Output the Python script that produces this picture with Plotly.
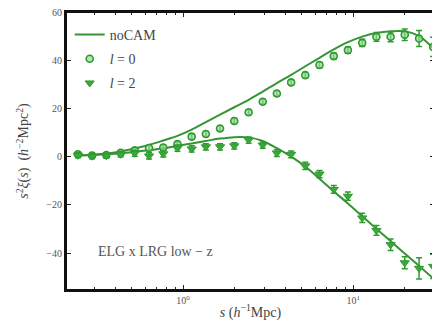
import plotly.graph_objects as go

# separation bins (h^-1 Mpc)
s = [0.241, 0.292, 0.354, 0.430, 0.520, 0.631, 0.765, 0.927, 1.124, 1.362,
     1.65, 2.0, 2.43, 2.94, 3.56, 4.32, 5.23, 6.34, 7.69, 9.31,
     11.3, 13.7, 16.6, 20.1, 24.4, 29.5]

# monopole measurements and errors
xi0 = [1.0, 0.5, 0.7, 1.6, 2.6, 3.6, 3.8, 5.2, 8.3, 9.4,
       11.7, 14.8, 18.4, 22.8, 26.2, 30.8, 33.8, 38.0, 41.7, 44.2,
       47.2, 49.7, 49.7, 50.6, 49.0, 45.5]
err0 = [0.9, 0.9, 0.9, 0.9, 0.9, 1.0, 1.0, 1.0, 1.0, 1.0,
        1.0, 1.0, 1.0, 1.0, 1.0, 1.1, 1.1, 1.2, 1.2, 1.3,
        1.5, 1.8, 2.0, 2.4, 3.3, 4.0]

# quadrupole measurements and errors
xi2 = [0.6, 0.2, 0.4, 1.0, 1.4, 0.3, 1.2, 3.5, 3.2, 4.1,
       4.1, 4.5, 6.9, 4.8, 1.5, 1.0, -3.8, -7.2, -13.6, -16.4,
       -25.4, -30.6, -36.5, -44.0, -46.3, -45.5]
err2 = [1.1, 1.1, 1.1, 1.1, 1.2, 1.3, 1.3, 1.3, 1.3, 1.3,
        1.3, 1.3, 1.3, 1.3, 1.4, 1.4, 1.5, 1.5, 1.6, 1.7,
        1.9, 2.0, 2.4, 2.5, 4.4, 5.0]

# noCAM model curves
model0 = [0.5, 0.8, 1.3, 2.2, 3.4, 4.9, 6.7, 8.6, 11.2, 14.3,
          17.4, 20.5, 23.6, 27.0, 30.5, 33.9, 37.5, 41.0, 44.5, 47.5,
          49.8, 51.3, 52.0, 52.0, 50.0, 45.0]
model2 = [0.5, 0.7, 1.0, 1.4, 2.0, 2.7, 3.5, 4.5, 5.5, 6.5,
          7.5, 8.1, 8.0, 6.5, 3.5, 0.0, -4.1, -9.2, -14.4, -19.4,
          -24.7, -29.9, -35.0, -40.2, -45.3, -50.4]

xticks = [1, 10]
xticktext = ["10<sup>0</sup>", "10<sup>1</sup>"]
yticks = [-40, -20, 0, 20, 40, 60]
minor_vals = [0.3, 0.4, 0.5, 0.6, 0.7, 0.8, 0.9, 2, 3, 4, 5, 6, 7, 8, 9, 20, 30]

green_line = "#359535"
green_mk = "#2f9a2f"
font_family = "Liberation Serif"

fig = go.Figure()

fig.add_trace(go.Scatter(
    x=s, y=model0, mode="lines", name="noCAM", legendgroup="a",
    line=dict(color=green_line, width=2, shape="spline"),
))
fig.add_trace(go.Scatter(
    x=s, y=model2, mode="lines", name="noCAM", legendgroup="a",
    line=dict(color=green_line, width=2, shape="spline"),
    showlegend=False,
))
fig.add_trace(go.Scatter(
    x=s, y=xi0, mode="markers", name="<i>l</i> = 0", legendgroup="b",
    marker=dict(symbol="circle", size=7, color="rgba(150,215,150,0.7)",
                line=dict(color=green_mk, width=1.6)),
    error_y=dict(type="data", array=err0, color=green_mk, thickness=1.5, width=3),
))
fig.add_trace(go.Scatter(
    x=s, y=xi2, mode="markers", name="<i>l</i> = 2", legendgroup="c",
    marker=dict(symbol="triangle-down", size=8, color="#3aa83a",
                line=dict(color=green_mk, width=1)),
    error_y=dict(type="data", array=err2, color=green_mk, thickness=1.5, width=3),
))

# page has an 8px body margin, so the figure is sized to fit inside the window
fig.update_layout(
    width=430, height=313,
    margin=dict(l=58, r=3, t=4, b=31),
    paper_bgcolor="white", plot_bgcolor="white",
    font=dict(family=font_family, color="#333333", size=11),
    showlegend=True,
    legend=dict(x=0.01, y=0.975, xanchor="left", yanchor="top",
                bgcolor="rgba(0,0,0,0)", font=dict(size=14, color="#444444"),
                traceorder="grouped", tracegroupgap=3, itemwidth=30),
    annotations=[dict(
        x=0.08, y=0.14, xref="paper", yref="paper", xanchor="left", yanchor="middle",
        text="ELG x LRG low − z", showarrow=False,
        font=dict(size=14, color="#555555", family=font_family),
    )],
    shapes=[dict(type="rect", xref="paper", yref="paper", x0=0, y0=0, x1=1, y1=1,
                 line=dict(color="#111", width=2), layer="above")],
)

fig.update_xaxes(
    type="log", range=[-0.688, 1.481],
    tickvals=xticks, ticktext=xticktext,
    ticks="inside", ticklen=5, tickwidth=1, tickcolor="#222",
    minor=dict(tickvals=minor_vals, ticks="inside", ticklen=3, tickcolor="#222"),
    showline=True, linecolor="#111", linewidth=2, mirror="ticks",
    showgrid=False, zeroline=False, automargin=False,
    tickfont=dict(size=10, color="#555"), ticklabeloverflow="allow",
    title=dict(text="<i>s</i> (<i>h</i><sup>−1</sup>Mpc)", font=dict(size=14, color="#444"), standoff=4),
)
fig.update_yaxes(
    range=[-55.3, 60],
    tickvals=yticks,
    ticks="inside", ticklen=5, tickwidth=1, tickcolor="#222",
    showline=True, linecolor="#111", linewidth=2, mirror="ticks",
    showgrid=False, zeroline=False, automargin=False,
    tickfont=dict(size=10, color="#555"), ticklabeloverflow="allow",
    title=dict(text="<i>s</i><sup>2</sup><i>ξ</i>(<i>s</i>)  (<i>h</i><sup>−2</sup>Mpc<sup>2</sup>)",
               font=dict(size=14, color="#444"), standoff=14),
)

fig.write_html("out.html")
